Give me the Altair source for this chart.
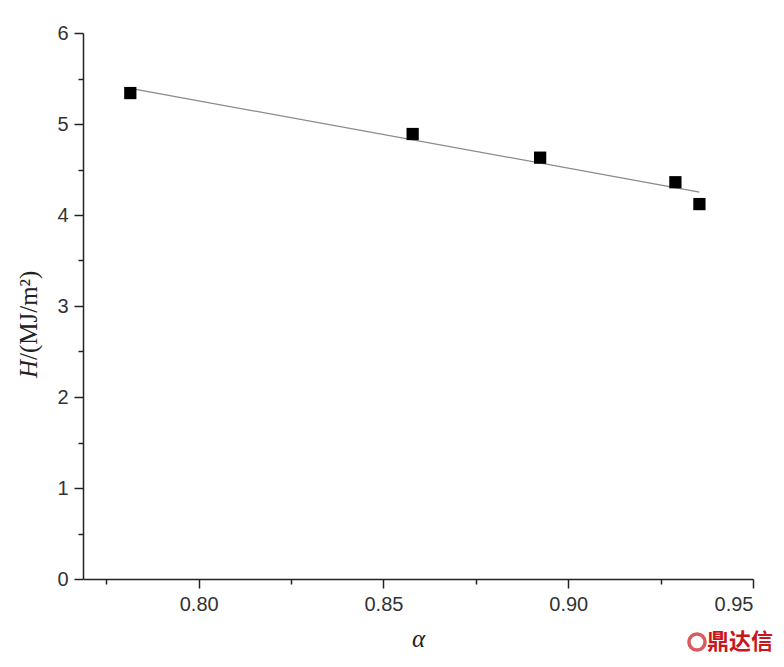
import altair as alt
import pandas as pd

alpha = [0.7815, 0.8579, 0.8924, 0.9290, 0.9355]
H = [5.34, 4.89, 4.63, 4.36, 4.12]

x_major = [0.80, 0.85, 0.90, 0.95]
x_minor = [0.775, 0.825, 0.875, 0.925]
y_major = [0, 1, 2, 3, 4, 5, 6]
y_minor = [0.5, 1.5, 2.5, 3.5, 4.5, 5.5]

df = pd.DataFrame({"a": alpha, "H": H})

xs = alt.Scale(domain=[0.7687, 0.95], nice=False, zero=False)
ys = alt.Scale(domain=[0, 6], nice=False)

axis_common = dict(grid=False, domainColor="#222", domainWidth=1.5, tickColor="#222",
                   tickWidth=1.5, labelFont="Liberation Sans", labelFontSize=20,
                   labelColor="#333")

base = alt.Chart(df)

line = base.transform_regression("a", "H").mark_line(color="#8a8a8a", strokeWidth=1.2).encode(
    x=alt.X("a:Q", scale=xs, axis=alt.Axis(values=x_minor, labels=False, tickSize=5, domain=False,
                                          orient="bottom", title=None, grid=False,
                                          tickColor="#222", tickWidth=1.5)),
    y=alt.Y("H:Q", scale=ys, axis=alt.Axis(values=y_minor, labels=False, tickSize=5, domain=False,
                                          orient="left", title=None, grid=False,
                                          tickColor="#222", tickWidth=1.5)),
)

pts = base.mark_square(size=150, color="black", opacity=1).encode(
    x=alt.X("a:Q", scale=xs, axis=alt.Axis(values=x_major, format=".2f", tickSize=9, orient="bottom",
                                          title="α", titleFont="Liberation Serif",
                                          titleFontStyle="italic", titleFontWeight="normal",
                                          titleFontSize=25, titlePadding=12, titleColor="#222",
                                          labelPadding=6, **axis_common)),
    y=alt.Y("H:Q", scale=ys, axis=alt.Axis(values=y_major, tickSize=9, orient="left", title=None,
                                          labelPadding=6, **axis_common)),
)

t1 = alt.Chart(pd.DataFrame({"t": ["H"]})).mark_text(
    font="Liberation Serif", fontStyle="italic", fontSize=25, angle=270,
    align="left", baseline="middle", color="#222"
).encode(x=alt.value(-54), y=alt.value(345), text="t:N")

t2 = alt.Chart(pd.DataFrame({"t": ["/(MJ/m²)"]})).mark_text(
    font="Liberation Serif", fontSize=25, angle=270,
    align="left", baseline="middle", color="#222"
).encode(x=alt.value(-54), y=alt.value(327), text="t:N")

wm = alt.Chart(pd.DataFrame({"t": ["鼎达信"]})).mark_text(
    font="Noto Sans CJK SC", fontWeight="bold", fontSize=22, color="#c8161d",
    align="center", baseline="middle"
).encode(x=alt.value(657), y=alt.value(609), text="t:N")

logo = alt.Chart(pd.DataFrame({"t": [1]})).mark_point(
    shape="circle", size=260, filled=False, stroke="#c8161d", strokeWidth=3.5
).encode(x=alt.value(614), y=alt.value(609))

chart = alt.layer(line, pts, t1, t2, wm, logo).resolve_axis(x="independent", y="independent").properties(
    width=670, height=546,
    autosize=alt.AutoSizeParams(type="none"),
    padding={"left": 75, "top": 25, "right": 20, "bottom": 80},
).configure_view(stroke=None)

chart.save("out.html", embed_options={"renderer": "svg", "actions": False})
